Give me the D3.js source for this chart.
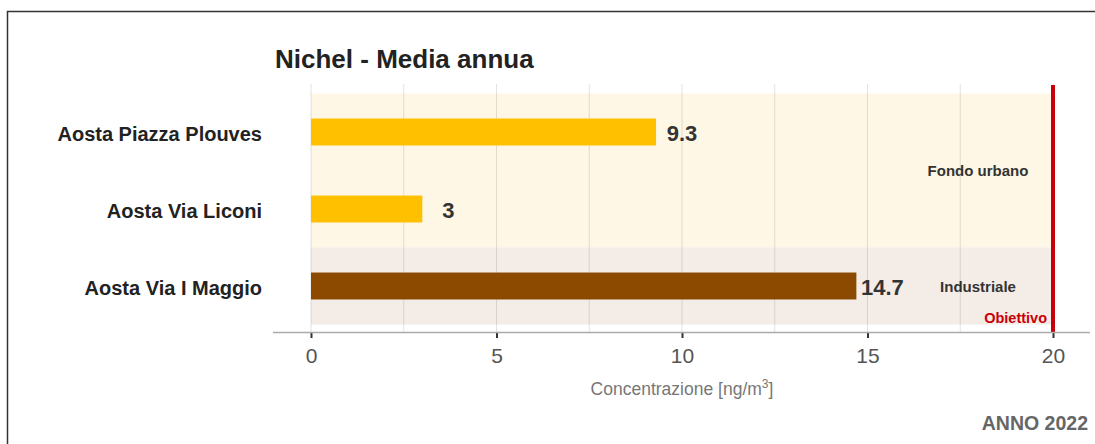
<!DOCTYPE html>
<html><head><meta charset="utf-8">
<script src="https://cdn.jsdelivr.net/npm/d3@7"></script>
<style>
html,body{margin:0;padding:0;background:#fff;}
svg{display:block;font-family:"Liberation Sans",Arial,sans-serif;}
</style></head>
<body><svg id="c" width="1095" height="444"></svg>
<script>
const stations = ["Aosta Piazza Plouves", "Aosta Via Liconi", "Aosta Via I Maggio"];
const values = [9.3, 3, 14.7];
const groups = ["Fondo urbano", "Fondo urbano", "Industriale"];
const barColors = ["#FFC000", "#FFC000", "#8C4A00"];
const xTicks = [0, 5, 10, 15, 20];
const gridValues = [0, 2.5, 5, 7.5, 10, 12.5, 15, 17.5, 20];
const zoneNames = ["Fondo urbano", "Industriale"];
const zoneColors = ["#FEF7E6", "#F4ECE6"];
const target = 20;
const title = "Nichel - Media annua";
const yearLabel = "ANNO 2022";

const FONT = "Liberation Sans, Arial, sans-serif";
const svg = d3.select("#c");
const x = d3.scaleLinear().domain([0, 20]).range([311, 1053]);
const y = d3.scaleBand().domain(stations).range([93.5, 324.5]).paddingInner(0.65).paddingOuter(0.325);

// frame
svg.append("path").attr("d", "M7.5,444 V11.5 H1095").attr("fill","none").attr("stroke","#333").attr("stroke-width",1.5);

// zone backgrounds
zoneNames.forEach((z, zi) => {
  const members = stations.filter((s, i) => groups[i] === z);
  const y0 = y(members[0]) + y.bandwidth()/2 - y.step()/2;
  const y1 = y(members[members.length-1]) + y.bandwidth()/2 + y.step()/2;
  svg.append("rect").attr("x", x(0)).attr("y", y0).attr("width", x(20)-x(0)).attr("height", y1-y0)
    .attr("fill", zoneColors[zi]);
  svg.append("text").attr("x", 978).attr("y", (y0+y1)/2 + 5.5)
    .attr("text-anchor","middle").attr("font-size", 15).attr("font-weight","bold").attr("fill","#333").text(z);
});

// grid
svg.selectAll(".grid").data(gridValues).enter().append("line")
  .attr("x1", d=>x(d)).attr("x2", d=>x(d)).attr("y1", 84).attr("y2", 332)
  .attr("stroke", "#000").attr("stroke-opacity", 0.11).attr("stroke-width", 1);

// bars
svg.selectAll(".bar").data(values).enter().append("rect")
  .attr("x", x(0)).attr("y", (d,i)=>y(stations[i]))
  .attr("width", d=>x(d)-x(0)).attr("height", y.bandwidth())
  .attr("fill", (d,i)=>barColors[i]);

// value labels
svg.selectAll(".vl").data(values).enter().append("text")
  .attr("x", d=>x(d)+26).attr("y", (d,i)=>y(stations[i])+y.bandwidth()/2+8.5)
  .attr("text-anchor","middle").attr("font-size",22).attr("font-weight","bold").attr("fill","#333")
  .text(d=>d);

// target line
svg.append("line").attr("x1", x(target)).attr("x2", x(target)).attr("y1", 85).attr("y2", 332)
  .attr("stroke", "#C8000A").attr("stroke-width", 4);
svg.append("text").attr("x", x(target)-6).attr("y", 322.5).attr("text-anchor","end")
  .attr("font-size", 14.5).attr("font-weight","bold").attr("fill","#C8000A").text("Obiettivo");

// x axis
const xAxis = d3.axisBottom(x).tickValues(xTicks).tickSize(6).tickPadding(10).tickFormat(d3.format("d"));
const gx = svg.append("g").attr("transform", "translate(0,332)").call(xAxis);
gx.select(".domain").remove();
gx.selectAll(".tick line").attr("stroke","#333").attr("stroke-width",2);
gx.selectAll(".tick text").attr("font-size",21).attr("fill","#555").attr("font-family",FONT);
svg.append("line").attr("x1", 273).attr("x2", 1090).attr("y1", 332.5).attr("y2", 332.5)
  .attr("stroke","#aaa").attr("stroke-width",1.5);

// y axis labels
const yAxis = d3.axisLeft(y).tickSize(0).tickPadding(0);
const gy = svg.append("g").attr("transform", "translate(262,0)").call(yAxis);
gy.select(".domain").remove();
gy.selectAll(".tick text").attr("font-size",20).attr("font-weight","bold").attr("fill","#222")
  .attr("font-family",FONT).attr("dy","0.45em");

// titles
svg.append("text").attr("x", 275).attr("y", 68).attr("font-size", 26).attr("font-weight","bold").attr("fill","#222").text(title);
const xt = svg.append("text").attr("x", 682).attr("y", 395).attr("text-anchor","middle").attr("font-size",17.5).attr("fill","#777");
xt.append("tspan").text("Concentrazione [ng/m");
xt.append("tspan").attr("dy",-7).attr("font-size",12).text("3");
xt.append("tspan").attr("dy",7).text("]");
svg.append("text").attr("x", 1088).attr("y", 430).attr("text-anchor","end").attr("font-size",19.5).attr("font-weight","bold").attr("fill","#666").text(yearLabel);
</script></body></html>
